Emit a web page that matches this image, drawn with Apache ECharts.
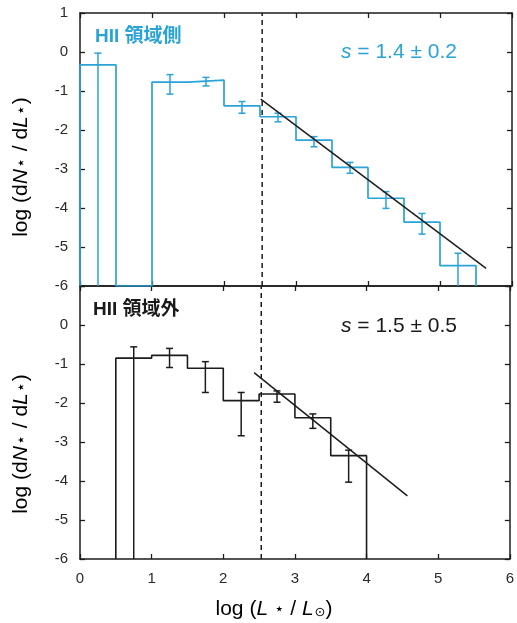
<!DOCTYPE html>
<html>
<head>
<meta charset="utf-8">
<script src="https://cdn.jsdelivr.net/npm/echarts@6/dist/echarts.min.js"></script>
<style>
html,body{margin:0;padding:0;background:#fff;}
#chart{width:517px;height:623px;}
</style>
</head>
<body>
<div id="chart"></div>
<script>
// ---- data ----
const binEdges = [0, 0.5, 1.0, 1.5, 2.0, 2.5, 3.0, 3.5, 4.0, 4.5, 5.0, 5.5];

// upper panel: HII 領域側 (blue)
const topValues   = [-0.33, null, -0.77, -0.72, -1.38, -1.66, -2.26, -2.96, -3.75, -4.36, -5.48];
const topErrUpper = [-0.03, null, -0.58, -0.65, -1.27, -1.57, -2.17, -2.83, -3.58, -4.14, -5.16];
const topErrLower = [-6,    null, -1.08, -0.87, -1.57, -1.79, -2.43, -3.11, -4.01, -4.67, -6];
const topFitX = [2.51, 5.64];
const topFitY = [-1.21, -5.55];

// lower panel: HII 領域外 (black)
const botValues   = [null, -0.85, -0.78, -1.11, -1.94, -1.77, -2.38, -3.35, null, null, null];
const botErrUpper = [null, -0.56, -0.60, -0.94, -1.73, -1.69, -2.28, -3.21, null, null, null];
const botErrLower = [null, -6,    -1.09, -1.73, -2.84, -1.98, -2.65, -4.03, null, null, null];
const botFitX = [2.43, 4.57];
const botFitY = [-1.22, -4.38];

const cutX = 2.53;           // dashed vertical line
const xTicks = [0, 1, 2, 3, 4, 5, 6];
const yMin = -6, yMax = 1;

// ---- styles ----
const BLUE = '#2aa3d8';
const INK = '#1c1c1c';
const NUMFONT = '"Liberation Sans", Arial, sans-serif';
const CJKFONT = '"Liberation Sans", "Noto Sans CJK JP", sans-serif';

function stepPath(values) {
  const pts = [];
  for (let i = 0; i < values.length; i++) {
    const v = values[i];
    if (v === null) continue;
    const lo = binEdges[i], hi = binEdges[i + 1];
    if (i === 0 || values[i - 1] === null) pts.push([lo, yMin]);
    pts.push([lo, v], [hi, v]);
    if (i === values.length - 1 || values[i + 1] === null) pts.push([hi, yMin]);
  }
  return pts;
}
function errData(values, up, lo) {
  const out = [];
  for (let i = 0; i < values.length; i++) {
    if (values[i] === null) continue;
    out.push([(binEdges[i] + binEdges[i + 1]) / 2, lo[i], up[i]]);
  }
  return out;
}
function errSeries(data, color, gi) {
  return {
    type: 'custom', xAxisIndex: gi * 2, yAxisIndex: gi * 2, data: data,
    encode: { x: 0, y: [1, 2] }, z: 3,
    renderItem: function (params, api) {
      const x = api.value(0), lo = api.value(1), hi = api.value(2);
      const pHi = api.coord([x, hi]);
      const pLo = api.coord([x, lo]);
      const st = { stroke: color, lineWidth: 1.5 };
      const cw = 3.5;
      const ch = [
        { type: 'line', shape: { x1: pHi[0], y1: pHi[1], x2: pLo[0], y2: pLo[1] }, style: st },
        { type: 'line', shape: { x1: pHi[0] - cw, y1: pHi[1], x2: pHi[0] + cw, y2: pHi[1] }, style: st }
      ];
      if (lo > yMin) ch.push({ type: 'line', shape: { x1: pLo[0] - cw, y1: pLo[1], x2: pLo[0] + cw, y2: pLo[1] }, style: st });
      return { type: 'group', children: ch };
    }
  };
}
function xAx(gi, pos, labels) {
  return {
    type: 'value', gridIndex: gi, position: pos, min: xTicks[0], max: xTicks[xTicks.length - 1], interval: 1,
    axisLine: { show: true, onZero: false, lineStyle: { color: INK, width: 1.5 } },
    axisTick: { show: true, inside: true, length: 5, lineStyle: { color: INK, width: 1.3 } },
    axisLabel: { show: labels, color: '#2a2a2a', fontSize: 15, fontFamily: NUMFONT, margin: 12 },
    splitLine: { show: false }
  };
}
function yAx(gi, pos, labels, hideTop) {
  return {
    type: 'value', gridIndex: gi, position: pos, min: yMin, max: yMax, interval: 1,
    axisLine: { show: true, onZero: false, lineStyle: { color: INK, width: 1.5 } },
    axisTick: { show: true, inside: true, length: 5, lineStyle: { color: INK, width: 1.3 } },
    axisLabel: {
      show: labels, color: '#2a2a2a', fontSize: 15, fontFamily: NUMFONT, margin: 12,
      formatter: function (v) { return (hideTop && v === yMax) ? '' : String(v); }
    },
    splitLine: { show: false }
  };
}
function lineSeries(gi, data, color, width, dashed, z) {
  return {
    type: 'line', xAxisIndex: gi * 2, yAxisIndex: gi * 2, data: data, showSymbol: false, symbol: 'none',
    lineStyle: { color: color, width: width, type: dashed ? [5, 4] : 'solid' }, z: z || 2, silent: true
  };
}

const chart = echarts.init(document.getElementById('chart'), null, { renderer: 'canvas' });
const subRich = {
  i: { fontStyle: 'italic', fontSize: 21, fontFamily: NUMFONT, color: '#1a1a1a' },
  s: { fontSize: 16, fontFamily: '"DejaVu Sans", sans-serif', color: '#1a1a1a', padding: [2, 1, 0, 1] },
  o: { fontSize: 13, fontFamily: '"DejaVu Sans", sans-serif', color: '#1a1a1a', padding: [7, 0, 0, 1] },
  n: { fontSize: 21, fontFamily: NUMFONT, color: '#1a1a1a' }
};
const yName = '{n|log (d}{i|N}{s|⋆}{n| / d}{i|L}{s|⋆}{n|)}';
function slopeText(x, y, txt, color) {
  return {
    type: 'text', x: x, y: y,
    style: {
      text: '{i|s} = ' + txt, fill: color, font: '21px ' + NUMFONT, textVerticalAlign: 'middle',
      rich: { i: { fontStyle: 'italic', fontSize: 21, fontFamily: NUMFONT, fill: color, color: color } }
    }
  };
}
chart.setOption({
  animation: false,
  backgroundColor: '#ffffff',
  grid: [
    { left: 80, right: 5, top: 13, height: 273 },
    { left: 80, right: 5, top: 286, height: 273 }
  ],
  xAxis: [xAx(0, 'bottom', false), xAx(0, 'top', false), xAx(1, 'bottom', true), xAx(1, 'top', false)],
  yAxis: [yAx(0, 'left', true, false), yAx(0, 'right', false, false), yAx(1, 'left', true, true), yAx(1, 'right', false, false)],
  series: [
    lineSeries(0, stepPath(topValues), BLUE, 1.7, false, 2),
    errSeries(errData(topValues, topErrUpper, topErrLower), BLUE, 0),
    lineSeries(0, [[topFitX[0], topFitY[0]], [topFitX[1], topFitY[1]]], INK, 1.5, false, 4),
    lineSeries(0, [[cutX, yMin], [cutX, yMax]], INK, 1.5, true, 4),
    lineSeries(1, stepPath(botValues), INK, 1.6, false, 2),
    errSeries(errData(botValues, botErrUpper, botErrLower), INK, 1),
    lineSeries(1, [[botFitX[0], botFitY[0]], [botFitX[1], botFitY[1]]], INK, 1.5, false, 4),
    lineSeries(1, [[cutX, yMin], [cutX, yMax]], INK, 1.5, true, 4)
  ],
  graphic: [
    { type: 'text', x: 95, y: 37, style: { text: 'HII 領域側', fill: BLUE, font: 'bold 19px ' + CJKFONT, textVerticalAlign: 'middle' } },
    slopeText(341, 52, '1.4 ± 0.2', BLUE),
    { type: 'text', x: 93, y: 310, style: { text: 'HII 領域外', fill: '#1a1a1a', font: 'bold 19px ' + CJKFONT, textVerticalAlign: 'middle' } },
    slopeText(341, 326, '1.5 ± 0.5', '#1a1a1a'),
    {
      type: 'text', x: 21, y: 167, rotation: Math.PI / 2,
      style: { text: yName, rich: subRich, textAlign: 'center', textVerticalAlign: 'middle' }
    },
    {
      type: 'text', x: 21, y: 444, rotation: Math.PI / 2,
      style: { text: yName, rich: subRich, textAlign: 'center', textVerticalAlign: 'middle' }
    },
    {
      type: 'text', x: 274, y: 609,
      style: { text: '{n|log (}{i|L}{s| ⋆ }{n|/ }{i|L}{o|⊙}{n|)}', rich: subRich, textAlign: 'center', textVerticalAlign: 'middle' }
    }
  ]
});
</script>
</body>
</html>
